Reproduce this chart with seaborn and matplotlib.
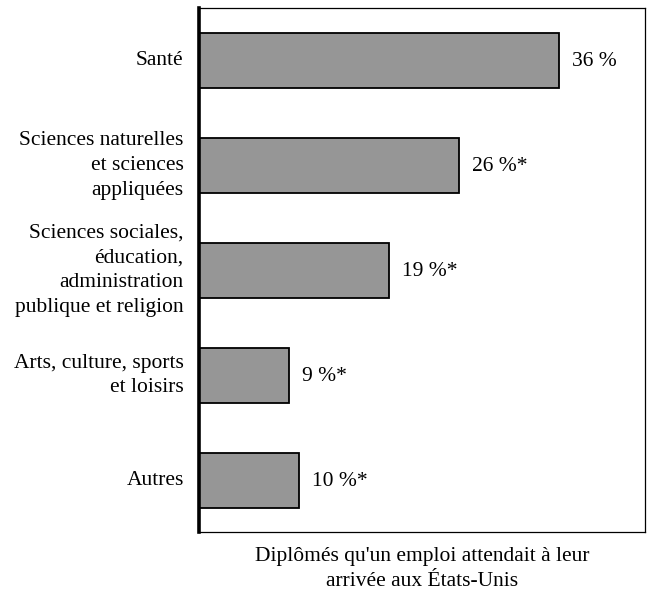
import matplotlib
matplotlib.use("Agg")
import matplotlib.pyplot as plt
import seaborn as sns
import pandas as pd

categories = [
    "Santé",
    "Sciences naturelles\net sciences\nappliquées",
    "Sciences sociales,\néducation,\nadministration\npublique et religion",
    "Arts, culture, sports\net loisirs",
    "Autres",
]
values = [36, 26, 19, 9, 10]
value_labels = ["36 %", "26 %*", "19 %*", "9 %*", "10 %*"]
xlabel = "Diplômés qu'un emploi attendait à leur\narrivée aux États-Unis"

sns.set_theme(style="white")
plt.rcParams["font.family"] = ["Liberation Serif", "DejaVu Serif"]
plt.rcParams["text.color"] = "black"
plt.rcParams["axes.labelcolor"] = "black"
plt.rcParams["ytick.color"] = "black"

FS = 15.5
LS = 1.42

df = pd.DataFrame({"cat": categories, "val": values})

fig = plt.figure(figsize=(6.49, 5.94), dpi=100)
ax = fig.add_axes([199 / 649, 1 - 532 / 594, 446 / 649, 524 / 594])

sns.barplot(data=df, x="val", y="cat", orient="h", ax=ax,
            color="#969696", saturation=1, width=0.52,
            edgecolor="black", linewidth=1.3)

ax.set_xlim(0, 44.6)
ax.set_ylim(4.49, -0.5)
ax.set_xticks([])
ax.tick_params(axis="y", length=0, pad=11, labelsize=FS, labelcolor="black")
for t in ax.get_yticklabels():
    t.set_linespacing(LS)
    t.set_horizontalalignment("right")
    t.set_verticalalignment("center")

ax.set_ylabel("")
ax.set_xlabel(xlabel, fontsize=FS, labelpad=11, linespacing=LS, color="black")

for bar, lab in zip(ax.patches, value_labels):
    ax.annotate(lab, (bar.get_width(), bar.get_y() + bar.get_height() / 2),
                xytext=(9, -1), textcoords="offset points",
                va="center", ha="left", fontsize=FS, color="black")

for side in ["top", "right", "bottom"]:
    ax.spines[side].set_visible(True)
    ax.spines[side].set_color("black")
    ax.spines[side].set_linewidth(0.9)
ax.spines["left"].set_color("black")
ax.spines["left"].set_linewidth(2.6)

fig.savefig("out.png", dpi=100, facecolor="white")
